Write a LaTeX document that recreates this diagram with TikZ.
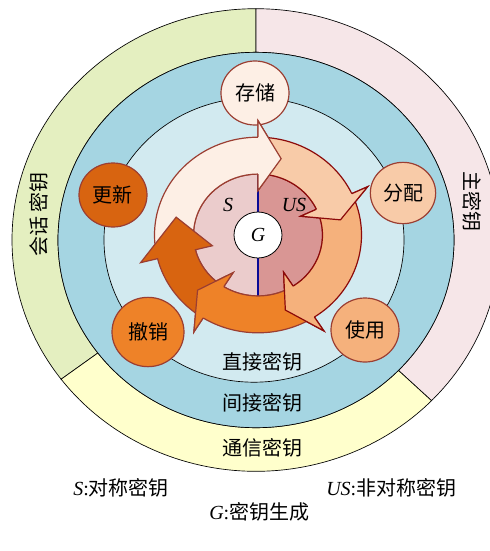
\documentclass[tikz,border=0pt]{standalone}
\usepackage{fontspec}
\setmainfont{Liberation Serif}
\newfontfamily\cjk{Noto Sans CJK SC}
\usetikzlibrary{shapes.geometric}

\definecolor{keygreen}{RGB}{228,239,192}
\definecolor{keypink}{RGB}{246,230,232}
\definecolor{keyyellow}{RGB}{255,255,204}
\definecolor{ringblue}{RGB}{165,213,226}
\definecolor{ringlight}{RGB}{210,234,240}
\definecolor{stepA}{RGB}{253,239,229}
\definecolor{stepB}{RGB}{248,203,168}
\definecolor{stepC}{RGB}{245,177,124}
\definecolor{stepD}{RGB}{238,130,40}
\definecolor{stepE}{RGB}{216,100,16}
\definecolor{edgebrown}{RGB}{155,62,50}
\definecolor{edgered}{RGB}{140,10,10}
\definecolor{halfS}{RGB}{235,204,204}
\definecolor{halfUS}{RGB}{217,150,148}
\definecolor{midline}{RGB}{10,10,150}

% radii of the cycle ring (pixels)
\def\rin{64.5}\def\rout{103.5}\def\rmid{84}\def\rwi{47}\def\rwo{121}

% #1 fill, #2 edge, #3 tail angle, #4 head base angle, #5 tip angle
\newcommand{\cycarrow}[5]{%
  \filldraw [fill=#1, draw=#2, line width=0.9pt, line join=miter]
    (#3:\rin) arc [start angle=#3, end angle=#4, radius=\rin] -- (#4:\rwi) -- (#5:\rmid) -- (#4:\rwo) -- (#4:\rout)
    arc [start angle=#4, end angle=#3, radius=\rout] -- cycle ;}
\newcommand{\cychead}[4]{%
  \fill [#1] (#3:\rwo) -- (#4:\rmid) -- (#3:\rwi) -- cycle ;
  \draw [#2, line width=0.9pt, line join=miter] (#3:\rout) -- (#3:\rwo) -- (#4:\rmid) -- (#3:\rwi) -- (#3:\rin) ;}

\tikzset{
  stepnode/.style={ellipse, draw=edgebrown, line width=0.9pt, minimum width=51pt, minimum height=48pt, inner sep=0pt},
  ringline/.style={draw=black, line width=0.5pt},
}

\begin{document}
\begin{tikzpicture}[x=0.75pt,y=0.75pt,yscale=-1,xscale=1, font=\fontsize{15}{18}\selectfont]
\useasboundingbox (0,0) rectangle (490,551);
\clip (0,0) rectangle (490,551);

%Key layers
\begin{scope}[shift={(256,240)}, yscale=-0.948]
% outer ring
\filldraw [ringline, fill=keygreen] (90:244) arc [start angle=90, end angle=217, radius=244] -- (217:198) arc [start angle=217, end angle=90, radius=198] -- cycle ;
\filldraw [ringline, fill=keypink] (-44:244) arc [start angle=-44, end angle=90, radius=244] -- (90:198) arc [start angle=90, end angle=-44, radius=198] -- cycle ;
\filldraw [ringline, fill=keyyellow] (217:244) arc [start angle=217, end angle=316, radius=244] -- (316:198) arc [start angle=316, end angle=217, radius=198] -- cycle ;
% blue rings
\filldraw [ringline, fill=ringblue] (0,0) circle (198) ;
\filldraw [ringline, fill=ringlight] (-2,0) circle (150) ;
\end{scope}

% Text Node
\node (huihua) [rotate=90, inner sep=0.75pt] at (39,214) {\cjk 会话\hspace{3pt}密钥};
\node (zhu) [rotate=-90, inner sep=0.75pt] at (472,201) {\cjk 主密钥};
\node (zhijie) [inner sep=0.75pt] at (262,362) {\cjk 直接密钥};
\node (jianjie) [inner sep=0.75pt] at (262,403) {\cjk 间接密钥};
\node (tongxin) [inner sep=0.75pt] at (262,448) {\cjk 通信密钥};

%Step circles
\node (cunchu) [stepnode, fill=stepA] at (255,93) {\cjk 存储};
\node (fenpei) [stepnode, fill=stepB, minimum width=49pt, minimum height=46pt] at (403,193) {\cjk 分配};
\node (shiyong) [stepnode, fill=stepC] at (365,330) {\cjk 使用};
\node (chexiao) [stepnode, fill=stepD, minimum width=54pt, minimum height=52pt] at (148,332) {\cjk 撤销};
\node (gengxin) [stepnode, fill=stepE] at (113,195) {\cjk 更新};

%Cycle
\begin{scope}[shift={(258,235)}, yscale=-0.945]
\fill [halfS] (90:\rin) arc [start angle=90, end angle=270, radius=\rin] -- cycle ;
\fill [halfUS] (-90:\rin) arc [start angle=-90, end angle=90, radius=\rin] -- cycle ;
\draw [edgebrown, line width=0.9pt] (0,0) circle (\rin) ;
\draw [midline, line width=0.9pt] (90:\rin) -- (-90:\rin) ;
\cycarrow{stepA}{edgebrown}{191}{90}{74}
\cycarrow{stepB}{edgered}{87}{25}{11}
\cycarrow{stepC}{edgered}{22}{-57}{-71}
\cycarrow{stepD}{edgebrown}{-60}{-122}{-136}
\cycarrow{stepE}{edgebrown}{-125}{-166}{-193}
\cychead{stepA}{edgebrown}{90}{74}
\cychead{stepB}{edgered}{25}{11}
\cychead{stepC}{edgered}{-57}{-71}
\cychead{stepD}{edgebrown}{-122}{-136}
\end{scope}

\node (gen) [ellipse, draw=black, line width=0.6pt, fill=white, minimum width=36pt, minimum height=34.5pt, inner sep=0pt] at (258,235) {\textit{G}};
\node (sym) [inner sep=0.75pt] at (228,205) {\textit{S}};
\node (asym) [inner sep=0.75pt] at (294,205) {\textit{US}};

% Legend
\node (legS) [anchor=west, inner sep=0.75pt] at (72,488) {\textit{S}:{\cjk 对称密钥}};
\node (legUS) [anchor=west, inner sep=0.75pt] at (325,488) {\textit{US}:{\cjk 非对称密钥}};
\node (legG) [anchor=west, inner sep=0.75pt] at (208,512) {\textit{G}:{\cjk 密钥生成}};

\end{tikzpicture}
\end{document}
